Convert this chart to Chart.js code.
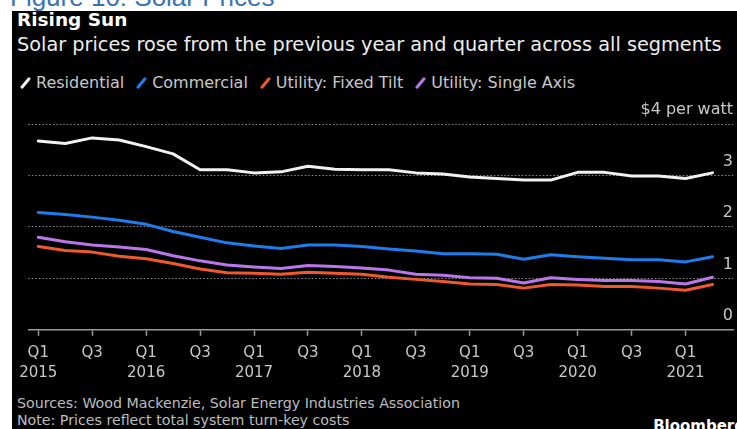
<!DOCTYPE html>
<html>
<head>
<meta charset="utf-8">
<script src="https://cdn.jsdelivr.net/npm/chart.js@4.4.1/dist/chart.umd.min.js"></script>
<style>
  html, body { margin: 0; padding: 0; background: #fff; width: 737px; height: 429px; overflow: hidden; }
  body { position: relative; font-family: 'DejaVu Sans', sans-serif; }
  #fig { position: absolute; left: 10px; top: -18px; font: 26px 'Liberation Sans', Arial, sans-serif; color: #3a72b8; white-space: nowrap; }
  #panel { position: absolute; left: 12px; top: 11px; width: 725px; height: 418px; background: #000; overflow: hidden; }
  .t { position: absolute; white-space: nowrap; }
  #title { left: 5px; top: -2px; font-weight: bold; font-size: 18.5px; color: #fff; }
  #sub { left: 5px; top: 22px; font-size: 19.3px; color: #ececec; }
  #legend { left: 8px; top: 62px; font-size: 16px; color: #c8c8c8; }
  #legend .item { display: inline-block; margin-right: 12px; }
  #legend .sw { display: inline-block; width: 3px; height: 14px; border-radius: 2px; transform: rotate(40deg); margin: 0 9px 0 4px; vertical-align: -2px; }
  #wrap { position: absolute; left: 0; top: 79px; width: 725px; height: 300px; }
  #src { left: 5px; top: 384px; font-size: 14.2px; line-height: 17px; color: #bdbdbd; }
  #bb { right: -8px; top: 406px; font-weight: bold; font-size: 15px; color: #fff; }
</style>
</head>
<body>
<div id="fig">Figure 10: Solar Prices</div>
<div id="panel">
  <div class="t" id="title">Rising Sun</div>
  <div class="t" id="sub">Solar prices rose from the previous year and quarter across all segments</div>
  <div class="t" id="legend"></div>
  <div id="wrap"><canvas id="c" width="725" height="300"></canvas></div>
  <div class="t" id="src">Sources: Wood Mackenzie, Solar Energy Industries Association<br>Note: Prices reflect total system turn-key costs</div>
  <div class="t" id="bb">Bloomberg</div>
</div>
<script>
const quarters = ['Q1 2015','Q2 2015','Q3 2015','Q4 2015','Q1 2016','Q2 2016','Q3 2016','Q4 2016',
                  'Q1 2017','Q2 2017','Q3 2017','Q4 2017','Q1 2018','Q2 2018','Q3 2018','Q4 2018',
                  'Q1 2019','Q2 2019','Q3 2019','Q4 2019','Q1 2020','Q2 2020','Q3 2020','Q4 2020',
                  'Q1 2021','Q2 2021'];

// $ per watt
const residential = [3.67,3.62,3.73,3.69,3.56,3.42,3.11,3.11,3.05,3.07,3.18,3.12,3.11,
                     3.11,3.05,3.03,2.97,2.94,2.91,2.91,3.06,3.06,2.99,2.99,2.94,3.05];
const commercial  = [2.28,2.24,2.19,2.13,2.05,1.91,1.80,1.69,1.63,1.58,1.65,1.65,1.62,
                     1.57,1.53,1.48,1.48,1.47,1.37,1.46,1.42,1.39,1.36,1.36,1.32,1.42];
const fixedTilt   = [1.62,1.54,1.51,1.43,1.38,1.29,1.18,1.11,1.10,1.08,1.12,1.10,1.08,
                     1.02,0.98,0.94,0.89,0.88,0.81,0.88,0.87,0.84,0.84,0.81,0.77,0.88];
const singleAxis  = [1.80,1.71,1.65,1.61,1.56,1.44,1.34,1.26,1.22,1.19,1.25,1.23,1.20,
                     1.16,1.08,1.06,1.01,1.00,0.91,1.01,0.98,0.96,0.96,0.94,0.89,1.02];

const yTicks = [0, 1, 2, 3, 4];

const series = [
  { name: 'Residential',           color: '#f2f2f2', data: residential },
  { name: 'Commercial',            color: '#1d7ded', data: commercial },
  { name: 'Utility: Fixed Tilt',   color: '#f0592b', data: fixedTilt },
  { name: 'Utility: Single Axis',  color: '#bb76ec', data: singleAxis }
];

/* legend */
document.getElementById('legend').innerHTML = series.map(s =>
  `<span class="item"><span class="sw" style="background:${s.color}"></span>${s.name}</span>`).join('');

const axisGray = '#9a9a9a';

new Chart(document.getElementById('c').getContext('2d'), {
  type: 'line',
  data: {
    datasets: series.map(s => ({
      label: s.name,
      data: s.data.map((v, i) => ({ x: i, y: v })),
      borderColor: s.color,
      borderWidth: 3,
      pointRadius: 0,
      tension: 0,
      borderJoinStyle: 'round',
      borderCapStyle: 'round'
    })).reverse()
  },
  options: {
    responsive: false,
    devicePixelRatio: 1,
    animation: false,
    layout: { padding: { left: 13, right: 4, top: 34, bottom: 0 } },
    plugins: { legend: { display: false }, tooltip: { enabled: false } },
    scales: {
      x: {
        type: 'linear',
        min: -0.37,
        max: 25.76,
        afterBuildTicks: s => { s.ticks = quarters.map((q, i) => ({ value: i })).filter(t => t.value % 2 === 0); },
        border: { display: true, color: axisGray, width: 1.5 },
        grid: { drawOnChartArea: false, drawTicks: true, tickLength: 6, tickColor: axisGray, tickWidth: 1.5 },
        ticks: {
          autoSkip: false,
          maxRotation: 0,
          padding: 7,
          color: '#c8c8c8',
          font: { family: "'DejaVu Sans', sans-serif", size: 15, lineHeight: 1.34 },
          callback: v => {
            const [q, yr] = quarters[v].split(' ');
            return q === 'Q1' ? [q, yr] : [q, ''];
          }
        }
      },
      y: {
        position: 'right',
        min: 0,
        max: 4,
        afterBuildTicks: s => { s.ticks = yTicks.map(v => ({ value: v })); },
        border: { display: false, dash: [1.5, 2] },
        grid: {
          drawTicks: false,
          lineWidth: 1,
          color: c => c.tick && c.tick.value === 0 ? 'rgba(0,0,0,0)' : '#8c8c8c'
        },
        ticks: {
          mirror: true,
          padding: 0,
          labelOffset: -14,
          color: '#c8c8c8',
          font: { family: "'DejaVu Sans', sans-serif", size: 16 },
          callback: v => v === 4 ? '$4 per watt' : String(v)
        }
      }
    }
  }
});
</script>
</body>
</html>
